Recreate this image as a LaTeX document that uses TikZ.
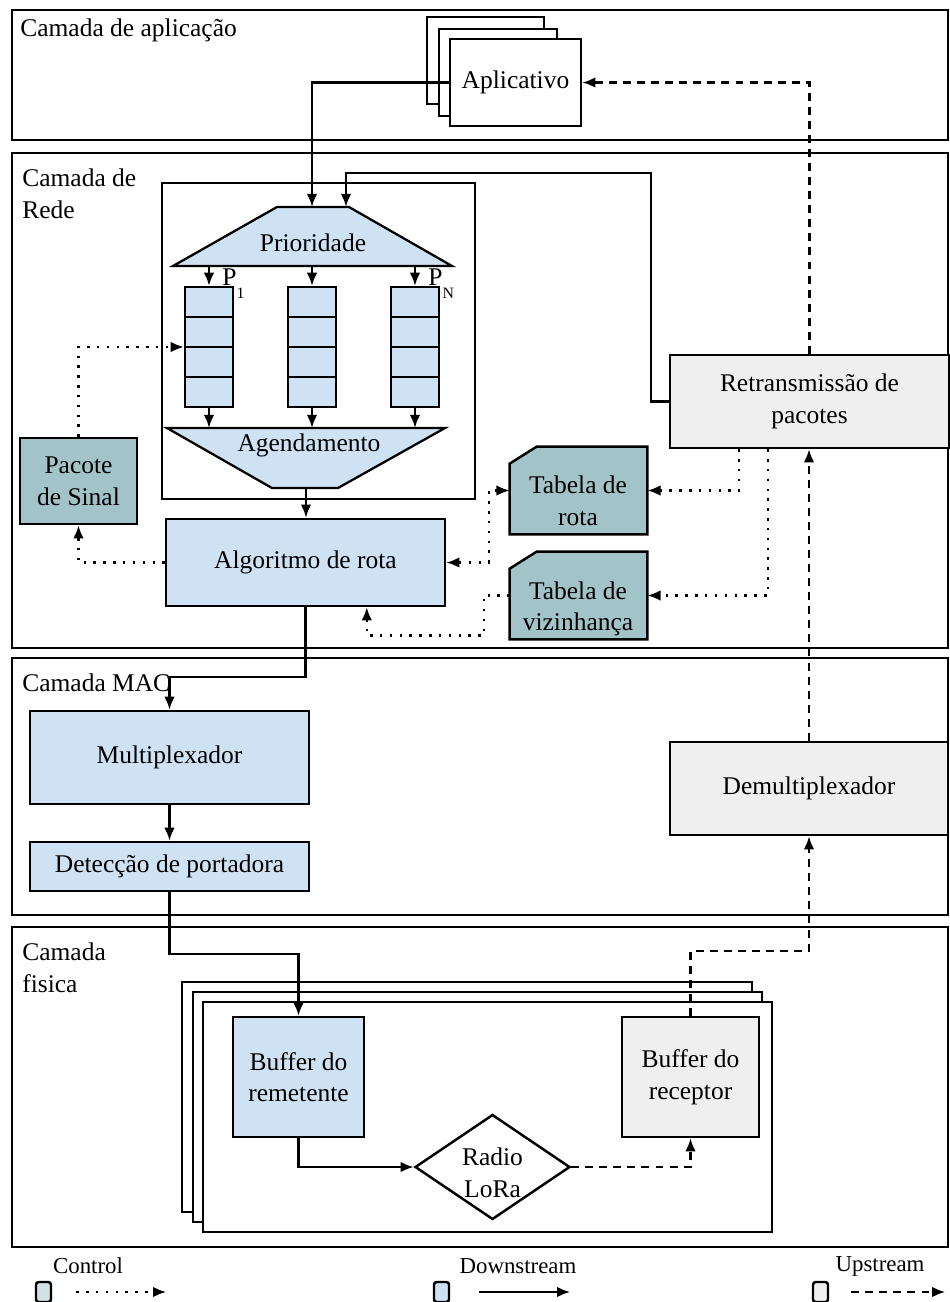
\documentclass[tikz,border=0pt]{standalone}
\usepackage{fontspec}
\setmainfont{Liberation Serif}
\usetikzlibrary{arrows.meta,fit,calc,shapes.geometric}

\definecolor{boxblue}{HTML}{CFE2F3}
\definecolor{boxteal}{HTML}{A2C4C9}
\definecolor{boxgray}{HTML}{EFEFEF}
\definecolor{legteal}{HTML}{D0E0E3}

\tikzset{
  layer/.style={draw, line width=1.6pt},
  lbl/.style={inner sep=0pt, align=left, font=\fontsize{14.5}{18}\selectfont},
  txt/.style={inner sep=0pt, align=center, font=\fontsize{14.5}{18}\selectfont},
  blk/.style={draw, line width=1.4pt, inner sep=0pt, align=center, font=\fontsize{14.5}{18}\selectfont},
  thinframe/.style={draw, line width=0.7pt, fill=white},
  downarr/.style={line width=1.3pt, -{Latex[length=7.5pt,width=6pt]}},
  uparr/.style={downarr, dash pattern=on 4.5pt off 3.5pt},
  ctrlarr/.style={downarr, dash pattern=on 1.4pt off 4.2pt},
  ctrlboth/.style={ctrlarr, {Latex[length=7.5pt,width=6pt]}-{Latex[length=7.5pt,width=6pt]}},
  legbox/.style={draw, line width=1.4pt, rounded corners=1.5pt, minimum width=0.3cm, minimum height=0.4cm, inner sep=0pt},
  legtxt/.style={inner sep=0pt, font=\fontsize{13}{15}\selectfont}
}

\begin{document}
\begin{tikzpicture}[x=0.02cm, y=-0.02cm]
\useasboundingbox (0,0) rectangle (950,1302);

% camadas
\draw[layer] (12,10) rectangle (948,140);
\draw[layer] (12,153) rectangle (948,648);
\draw[layer] (12,658) rectangle (948,915);
\draw[layer] (12,927) rectangle (948,1247);
\node[lbl, anchor=west] (lapp) at (20,30) {Camada de aplicação};
\node[lbl, anchor=west] (lrede) at (22,194) {Camada de\\Rede};
\node[lbl, anchor=west] (lmac) at (22,683) {Camada MAC};
\node[lbl, anchor=west] (lfis) at (22,968) {Camada\\fisica};

% aplicativos
\draw[thinframe, line width=1.3pt] (427,17) rectangle (544,104);
\draw[thinframe, line width=1.3pt] (439,29) rectangle (557,116);
\node[blk, fill=white, minimum width=2.62cm, minimum height=1.74cm] (app) at (515.5,82.5) {Aplicativo};

% filas de prioridade
\node[draw, line width=1.4pt, inner sep=0pt, fit={(162,183)(475,499)}] (qbox) {};
\draw[line width=1.3pt, fill=boxblue] (277,207) -- (349,207) -- (452,266) -- (173,266) -- cycle;
\node[txt] (prio) at (313,243) {Prioridade};
\coordinate (priotop1) at (312,207);
\coordinate (priotop2) at (346,207);
\coordinate (priobot) at (313,266);
\draw[line width=1.3pt, fill=boxblue] (167,428) -- (445,428) -- (338,488) -- (272,488) -- cycle;
\node[txt] (agend) at (309,445) {Agendamento};
\coordinate (agtop) at (306,428);
\coordinate (agbot) at (306,488);

\foreach \n/\x in {1/209,2/312,3/415} {
  \node[draw, line width=1.3pt, fill=boxblue, inner sep=0pt, fit={(\x-24,287)(\x+24,407)}] (q\n) {};
  \foreach \y in {317,347,377}
    \draw[line width=1.3pt] (\x-24,\y) -- (\x+24,\y);
  \draw[downarr] (q\n.north |- priobot) -- (q\n.north);
  \draw[downarr] (q\n.south) -- (q\n.south |- agtop);
}
\node[txt, anchor=base west] (p1) at (222,285) {P\raisebox{-7.4pt}{\fontsize{9}{9}\selectfont 1}};
\node[txt, anchor=base west] (pn) at (428,285) {P\raisebox{-7.4pt}{\fontsize{9}{9}\selectfont N}};

% rede
\node[blk, fill=boxblue, minimum width=5.58cm, minimum height=1.74cm] (alg) at (305.5,562.5) {Algoritmo de rota};
\node[blk, fill=boxteal, minimum width=2.34cm, minimum height=1.72cm] (sinal) at (78.5,481) {Pacote\\de Sinal};
\node[blk, fill=boxgray, minimum width=5.58cm, minimum height=1.86cm] (retr) at (809.5,401.5) {Retransmissão de\\pacotes};

\node[inner sep=0pt, fit={(510,447)(647,534)}] (rota) {};
\draw[line width=1.4pt, fill=boxteal] (rota.south west) -- ($(rota.north west)+(0,17)$)
  -- ($(rota.north west)+(27,0)$) -- (rota.north east) -- (rota.south east) -- cycle;
\node[txt] (rotatxt) at (578,501) {Tabela de\\rota};
\node[inner sep=0pt, fit={(510,552)(647,639)}] (viz) {};
\draw[line width=1.4pt, fill=boxteal] (viz.south west) -- ($(viz.north west)+(0,17)$)
  -- ($(viz.north west)+(27,0)$) -- (viz.north east) -- (viz.south east) -- cycle;
\node[txt] (viztxt) at (578,609) {Tabela de\\vizinhança};

\draw[downarr] (app.west) -| (priotop1);
\coordinate (fb) at (346,173);
\draw[downarr] (retr.west) -- ++(-18,0) |- (fb) -- (priotop2);
\draw[downarr] (agbot) -- (agbot |- alg.north);
\draw[ctrlarr] (sinal.north) |- (q1.west);
\draw[ctrlarr] (alg.west) -| (sinal.south);
\draw[ctrlarr] ($(retr.south west)+(70,0)$) |- (rota.east);
\draw[ctrlarr] ($(retr.south west)+(99,0)$) |- (viz.east);
\draw[ctrlboth] (rota.west) -- ++(-21,0) |- (alg.east);
\draw[ctrlarr] (viz.west) -- ++(-26,0) -- ++(0,40) -| ($(alg.south west)+(202,0)$);
\draw[uparr] (retr.north) |- (app.east);

% MAC
\node[blk, fill=boxblue, minimum width=5.58cm, minimum height=1.86cm] (mux) at (169.5,757.5) {Multiplexador};
\node[blk, fill=boxblue, minimum width=5.58cm, minimum height=0.98cm] (det) at (169.5,866.5) {Detecção de portadora};
\node[blk, fill=boxgray, minimum width=5.56cm, minimum height=1.86cm] (demux) at (809,788.5) {Demultiplexador};
\draw[downarr] (alg.south) -- ++(0,70) -| (mux.north);
\draw[downarr] (mux.south) -- (det.north);
\draw[uparr] (demux.north) -- (demux.north |- retr.south);

% fisica
\draw[thinframe] (182,982) rectangle (752,1212);
\draw[thinframe] (193,992) rectangle (762,1222);
\draw[thinframe] (203,1002) rectangle (772,1232);
\node[blk, fill=boxblue, minimum width=2.62cm, minimum height=2.4cm] (brem) at (298.5,1077) {Buffer do\\remetente};
\node[blk, fill=boxgray, minimum width=2.74cm, minimum height=2.4cm] (brec) at (690.5,1077) {Buffer do\\receptor};
\node[draw, line width=1.4pt, fill=white, shape=diamond, minimum width=3.1cm,
  minimum height=2.1cm, inner sep=0pt] (radio) at (492.5,1167) {};
\node[txt] (radiotxt) at (492.5,1173) {Radio\\LoRa};
\draw[downarr] (det.south) -- ++(0,62) -| (brem.north);
\draw[downarr] (brem.south) |- (radio.west);
\draw[uparr] (radio.east) -| (brec.south);
\draw[uparr] (brec.north) -- ++(0,-65) -| (demux.south);

% legenda
\node[legbox, fill=legteal] (lgc) at (43.5,1292) {};
\node[legbox, fill=boxblue] (lgd) at (441.5,1292) {};
\node[legbox, fill=boxgray] (lgu) at (820.5,1292) {};
\node[legtxt] (ltc) at (88,1266) {Control};
\node[legtxt] (ltd) at (518,1266) {Downstream};
\node[legtxt] (ltu) at (880,1266) {Upstream};
\draw[ctrlarr] ($(lgc.east)+(24,0)$) -- ++(90,0);
\draw[downarr] ($(lgd.east)+(29,0)$) -- ++(91,0);
\draw[uparr] ($(lgu.east)+(22,0)$) -- ++(94,0);
\end{tikzpicture}
\end{document}
